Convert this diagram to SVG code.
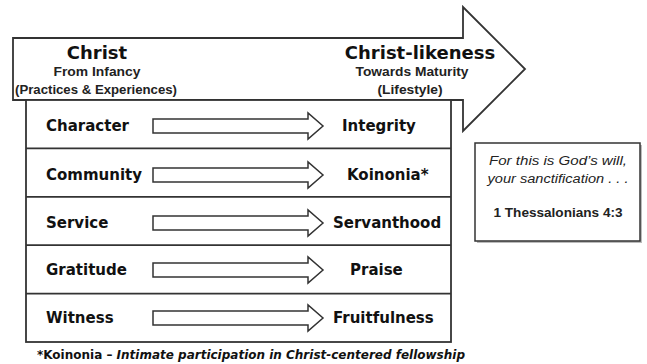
<svg xmlns="http://www.w3.org/2000/svg" width="647" height="364" viewBox="0 0 647 364">
<style>
.ln{fill:#fff;stroke:#333;stroke-width:1.8;stroke-linejoin:miter}
.sa{fill:#fff;stroke:#333;stroke-width:1.5}
.lbl{font-family:"DejaVu Sans",sans-serif;font-weight:bold;font-size:15px;fill:#111}
.hd{font-family:"DejaVu Sans",sans-serif;font-weight:bold;font-size:18px;fill:#111}
.sub{font-family:"Liberation Sans",Arial,sans-serif;font-weight:bold;font-size:12px;fill:#222}
.it{font-family:"Liberation Sans",Arial,sans-serif;font-style:italic;font-size:12px;fill:#222}
.ref{font-family:"Liberation Sans",Arial,sans-serif;font-weight:bold;font-size:12px;fill:#222}
.fn{font-family:"DejaVu Sans",sans-serif;font-weight:bold;font-size:11.5px;fill:#111}
</style>
<rect width="647" height="364" fill="#fff"/>
<g id="big-arrow">
<path class="ln" d="M13,38 H463 V7 L525,69 L463,131 V100 H13 Z"/>
<text class="hd" x="97" y="59" text-anchor="middle">Christ</text>
<text class="sub" x="97" y="76" text-anchor="middle" textLength="87" lengthAdjust="spacingAndGlyphs">From Infancy</text>
<text class="sub" x="96" y="94" text-anchor="middle" textLength="162" lengthAdjust="spacingAndGlyphs">(Practices &amp; Experiences)</text>
<text class="hd" x="420" y="59" text-anchor="middle">Christ-likeness</text>
<text class="sub" x="412" y="76" text-anchor="middle" textLength="113" lengthAdjust="spacingAndGlyphs">Towards Maturity</text>
<text class="sub" x="410" y="94" text-anchor="middle" textLength="65" lengthAdjust="spacingAndGlyphs">(Lifestyle)</text>
</g>
<g id="table">
<rect class="ln" x="26" y="100" width="425" height="242"/>
<line class="ln" x1="26" y1="148.4" x2="451" y2="148.4"/>
<line class="ln" x1="26" y1="196.8" x2="451" y2="196.8"/>
<line class="ln" x1="26" y1="245.2" x2="451" y2="245.2"/>
<line class="ln" x1="26" y1="293.6" x2="451" y2="293.6"/>
</g>
<g id="connectors">
<path class="sa" d="M153,119 H308 V113 L323,126 L308,139 V133 H153 Z"/>
<path class="sa" d="M153,168 H308 V162 L323,175 L308,188 V182 H153 Z"/>
<path class="sa" d="M153,216 H308 V210 L323,223 L308,236 V230 H153 Z"/>
<path class="sa" d="M153,263 H308 V257 L323,270 L308,283 V277 H153 Z"/>
<path class="sa" d="M153,311 H308 V305 L323,318 L308,331 V325 H153 Z"/>
</g>
<g id="row-character">
<text class="lbl" x="46" y="130.5">Character</text>
<text class="lbl" x="342" y="130.5">Integrity</text>
</g>
<g id="row-community">
<text class="lbl" x="46" y="179.5">Community</text>
<text class="lbl" x="347" y="179.5">Koinonia*</text>
</g>
<g id="row-service">
<text class="lbl" x="46" y="227.5">Service</text>
<text class="lbl" x="333" y="227.5">Servanthood</text>
</g>
<g id="row-gratitude">
<text class="lbl" x="46" y="274.5">Gratitude</text>
<text class="lbl" x="350" y="274.5">Praise</text>
</g>
<g id="row-witness">
<text class="lbl" x="46" y="322.5">Witness</text>
<text class="lbl" x="333" y="322.5">Fruitfulness</text>
</g>
<g id="verse-box">
<rect x="477" y="145" width="165" height="98" fill="#bbb"/>
<rect x="475" y="143" width="165" height="98" fill="#fff" stroke="#333" stroke-width="1.5"/>
<text class="it" x="558" y="165" text-anchor="middle" textLength="138" lengthAdjust="spacingAndGlyphs">For this is God’s will,</text>
<text class="it" x="558" y="183" text-anchor="middle" textLength="141" lengthAdjust="spacingAndGlyphs">your sanctification . . .</text>
<text class="ref" x="558" y="217" text-anchor="middle" textLength="129" lengthAdjust="spacingAndGlyphs">1 Thessalonians 4:3</text>
</g>
<g id="footnote">
<text class="fn" x="37" y="359" textLength="428" lengthAdjust="spacingAndGlyphs">*Koinonia – <tspan font-style="italic">Intimate participation in Christ-centered fellowship</tspan></text>
</g>
</svg>
